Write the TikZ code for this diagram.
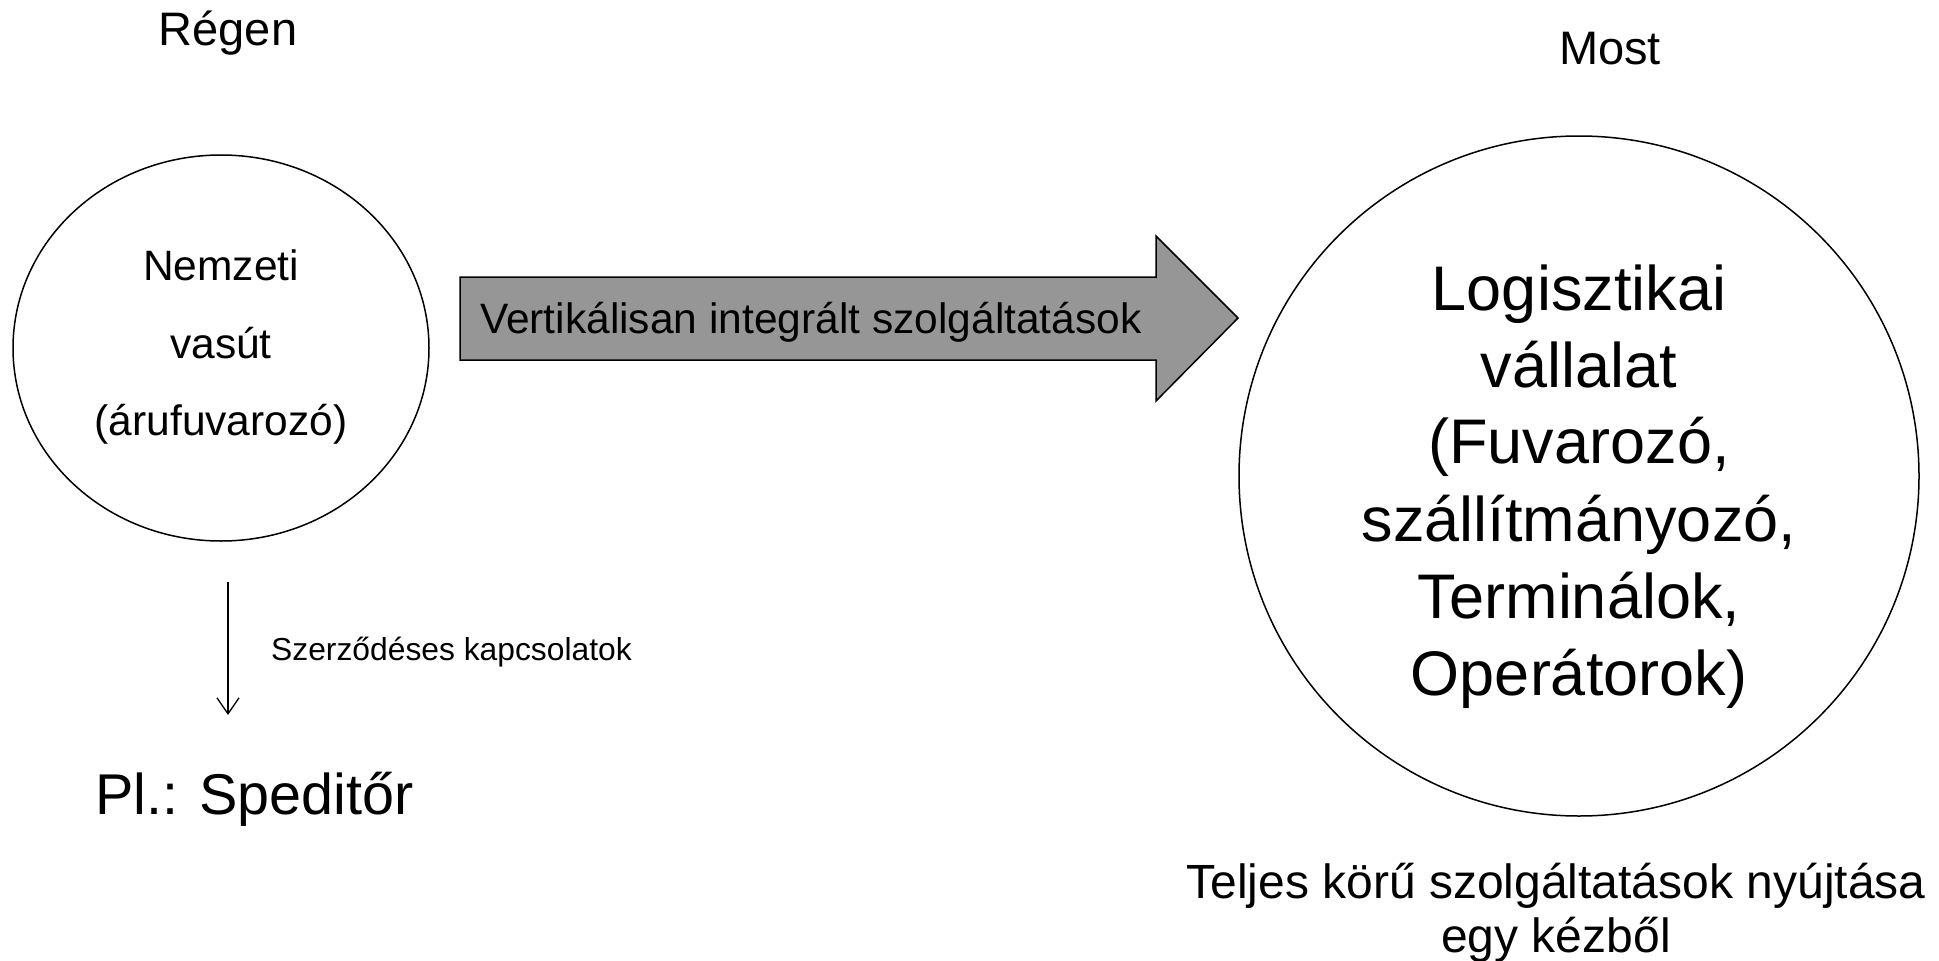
\documentclass[tikz,border=0pt]{standalone}
\usepackage{fontspec}
\setmainfont{Liberation Sans}
\usetikzlibrary{arrows.meta,positioning,shapes.geometric}
\definecolor{nyilszurke}{RGB}{150,150,150}

\begin{document}
\begin{tikzpicture}[x=1pt,y=-1pt,
    vonal/.style={line width=1.5pt},
    sor/.style={inner sep=0pt,anchor=base},
    cimsor/.style={sor,font=\fontsize{47}{56}\selectfont},
    kozepsor/.style={sor,font=\fontsize{42.5}{50}\selectfont},
    nagysor/.style={sor,font=\fontsize{63}{76}\selectfont},
    kissor/.style={sor,font=\fontsize{31.8}{38}\selectfont}]
    \useasboundingbox (0,0) rectangle (1939,961);

    % Regen (bal oldal)
    \node[cimsor] (regen) at (228,45) {Régen};
    \node[ellipse,draw,vonal,inner sep=0pt,minimum width=416pt,minimum height=386pt] (vasut) at (221,348) {};
    \node[kozepsor] (sor1) at (221,280) {Nemzeti};
    \node[kozepsor] (sor2) at (221,358) {vasút};
    \node[kozepsor] (sor3) at (221,435) {(árufuvarozó)};

    % Szerzodeses kapcsolat lefele
    \coordinate (kezd) at (228,582);
    \coordinate (veg) at (228,715);
    \draw[line width=1.3pt,-{Straight Barb[length=16pt,width=22pt]}] (kezd) -- (veg);
    \node[kissor,anchor=base west] (szerzodes) at (271,660) {Szerződéses kapcsolatok};
    \node[sor,anchor=base west,font=\fontsize{57.5}{70}\selectfont] (spedi) at (95,814) {Pl.: Speditőr};

    % Nagy nyil
    \draw[vonal,fill=nyilszurke] (460,277) -- (1156,277) -- (1156,236) -- (1238,318)
        -- (1156,401) -- (1156,360) -- (460,360) -- cycle;
    \node[kozepsor,anchor=base west] (vertikalis) at (480,333) {Vertikálisan integrált szolgáltatások};

    % Most (jobb oldal)
    \node[cimsor] (most) at (1610,64) {Most};
    \node[circle,draw,vonal,inner sep=0pt,minimum size=680pt] (logkor) at (1579,476) {};
    \node[nagysor] (log1) at (1579,310) {Logisztikai};
    \node[nagysor] (log2) at (1579,387) {vállalat};
    \node[nagysor] (log3) at (1579,463) {(Fuvarozó,};
    \node[nagysor] (log4) at (1579,541) {szállítmányozó,};
    \node[nagysor] (log5) at (1579,618) {Terminálok,};
    \node[nagysor] (log6) at (1579,695) {Operátorok)};

    \node[cimsor,font=\fontsize{48}{56}\selectfont] (teljes) at (1556,898) {Teljes körű szolgáltatások nyújtása};
    \node[cimsor,font=\fontsize{48}{56}\selectfont] (kezbol) at (1556,952) {egy kézből};
\end{tikzpicture}
\end{document}
